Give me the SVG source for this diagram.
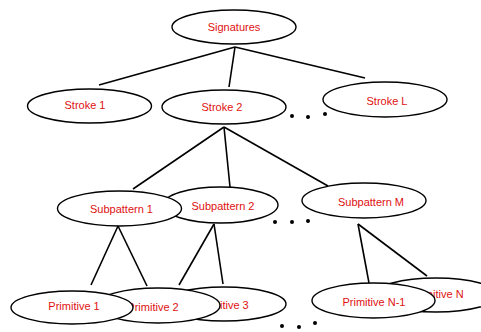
<svg xmlns="http://www.w3.org/2000/svg" width="481" height="332" viewBox="0 0 481 332">
<style>
.n ellipse{fill:#fff;stroke:#000;stroke-width:1.4}
.n text{font-family:"Liberation Sans",Arial,sans-serif;font-size:11px;fill:#e01010;text-anchor:middle}
#connectors line{stroke:#000;stroke-width:1.6}
.dots circle{fill:#000}
</style>
<rect width="481" height="332" fill="#fff"/>
<g id="connectors">
<line x1="235" y1="47" x2="99" y2="85"/>
<line x1="235" y1="47" x2="229" y2="87"/>
<line x1="235" y1="47" x2="365" y2="78"/>
<line x1="224" y1="127" x2="133" y2="189"/>
<line x1="224" y1="127" x2="230" y2="187"/>
<line x1="224" y1="127" x2="328" y2="186"/>
<line x1="118" y1="226" x2="91" y2="285"/>
<line x1="118" y1="226" x2="147" y2="286"/>
<line x1="214" y1="224" x2="179" y2="285"/>
<line x1="214" y1="224" x2="223" y2="284"/>
<line x1="358" y1="224" x2="369" y2="283"/>
<line x1="358" y1="224" x2="427" y2="276"/>
</g>
<g id="signatures" class="n"><ellipse cx="234" cy="27" rx="62" ry="17"/><text x="234" y="31">Signatures</text></g>
<g id="stroke1" class="n"><ellipse cx="89.5" cy="106" rx="62" ry="17"/><text x="85" y="109">Stroke 1</text></g>
<g id="stroke2" class="n"><ellipse cx="224" cy="107" rx="62" ry="17"/><text x="222" y="111">Stroke 2</text></g>
<g id="strokeL" class="n"><ellipse cx="385" cy="99.5" rx="62" ry="17.5"/><text x="387" y="105">Stroke L</text></g>
<g class="dots"><circle cx="292" cy="116" r="2"/><circle cx="308" cy="117" r="2"/><circle cx="325" cy="114" r="2"/></g>
<g id="subpattern2" class="n"><ellipse cx="220.5" cy="205" rx="57.5" ry="18"/><text x="223" y="210">Subpattern 2</text></g>
<g id="subpattern1" class="n"><ellipse cx="119.5" cy="208.5" rx="62" ry="17.5"/><text x="121.5" y="213">Subpattern 1</text></g>
<g id="subpatternM" class="n"><ellipse cx="364" cy="200.5" rx="62" ry="17.5"/><text x="371" y="206">Subpattern M</text></g>
<g class="dots"><circle cx="275" cy="222" r="2"/><circle cx="292" cy="222" r="2"/><circle cx="308" cy="221" r="2"/></g>
<g id="primitive3" class="n"><ellipse cx="224" cy="304" rx="62" ry="17"/><text x="223" y="309">Primitive 3</text></g>
<g id="primitive2" class="n"><ellipse cx="158" cy="305.5" rx="62" ry="17.5"/><text x="153" y="311">Primitive 2</text></g>
<g id="primitive1" class="n"><ellipse cx="72" cy="307.5" rx="61" ry="16.5"/><text x="74" y="310">Primitive 1</text></g>
<g id="primitiveN" class="n"><ellipse cx="436" cy="295" rx="62" ry="17"/><text x="437" y="298">Primitive N</text></g>
<g id="primitiveN-1" class="n"><ellipse cx="373.5" cy="300.5" rx="61.5" ry="17.5"/><text x="374" y="306">Primitive N-1</text></g>
<g class="dots"><circle cx="282" cy="326" r="2"/><circle cx="299" cy="327" r="2"/><circle cx="315" cy="323" r="2"/></g>
</svg>
